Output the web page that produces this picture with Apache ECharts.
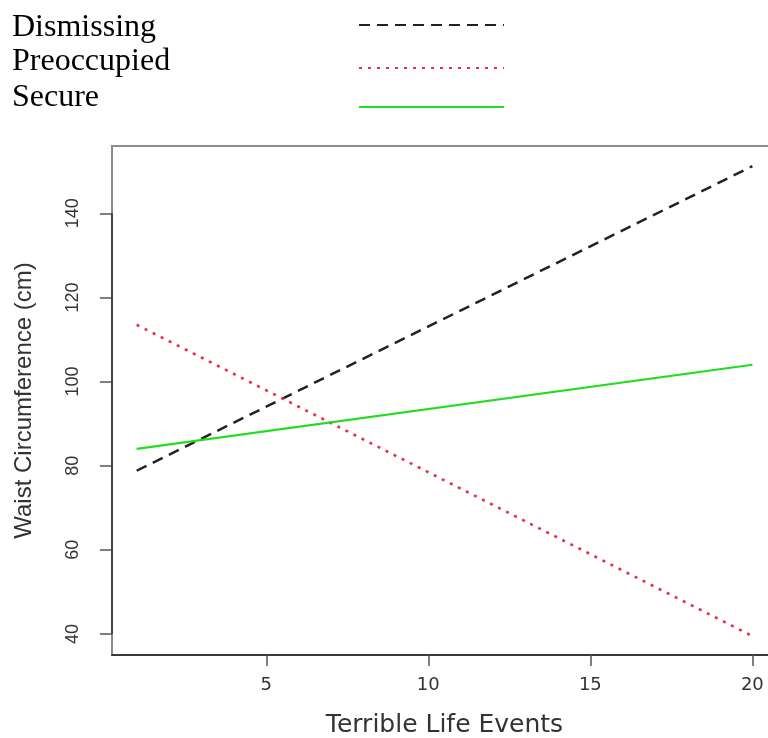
<!DOCTYPE html>
<html>
<head>
<meta charset="utf-8">
<script src="https://cdn.jsdelivr.net/npm/echarts@6/dist/echarts.min.js"></script>
<style>html,body{margin:0;padding:0;background:#fff}#c{width:768px;height:738px}</style>
</head>
<body>
<div id="c"></div>
<script>
const lifeEvents = [1, 20];
const dismissing = [78.8, 151.2];
const preoccupied = [113.5, 39.5];
const secure = [84, 104];
const xTicks = [5, 10, 15, 20];
const yTicks = [40, 60, 80, 100, 120, 140];
const seriesNames = ['Dismissing', 'Preoccupied', 'Secure'];
const xRange = [0.24, 20.76];
const yRange = [35, 156];

const toPairs = ys => lifeEvents.map((x, i) => [x, ys[i]]);

// legend layout: text rows on the left, line samples on the right
const textTops = [7, 41, 77];
const lineCenters = [25, 68, 107];

const chart = echarts.init(document.getElementById('c'));
chart.setOption({
  animation: false,
  title: seriesNames.map((n, i) => ({
    text: n, left: 7, top: textTops[i],
    textStyle: { fontFamily: 'Liberation Serif', fontSize: 32, fontWeight: 'normal', color: '#000', lineHeight: 32 }
  })),
  legend: seriesNames.map((n, i) => ({
    data: [n],
    left: 353, top: lineCenters[i] - 10,
    itemWidth: 145, itemHeight: 10,
    selectedMode: false,
    formatter: () => '',
    itemStyle: { opacity: 0 },
    textStyle: { fontSize: 1 }
  })),
  grid: {
    left: 112, top: 146, right: -9, bottom: 83,
    outerBoundsMode: 'none', containLabel: false,
    show: true, borderColor: '#8c8c8c', borderWidth: 2
  },
  xAxis: {
    type: 'value', min: xRange[0], max: xRange[1],
    name: 'Terrible Life Events', nameLocation: 'middle', nameGap: 58,
    nameTextStyle: { fontFamily: 'DejaVu Sans', fontSize: 25, color: '#333' },
    axisLine: { show: true, lineStyle: { color: '#3a3a3a', width: 2 } },
    splitLine: { show: false },
    axisTick: { show: true, length: 11, lineStyle: { color: '#555', width: 1.5 }, customValues: xTicks },
    axisLabel: { fontFamily: 'DejaVu Sans', fontSize: 18, color: '#333', margin: 21, customValues: xTicks }
  },
  yAxis: {
    type: 'value', min: yRange[0], max: yRange[1],
    name: 'Waist Circumference (cm)', nameLocation: 'middle', nameGap: 76, nameRotate: 90,
    nameTextStyle: { fontFamily: 'Liberation Sans', fontSize: 24, color: '#333' },
    axisLine: { show: false },
    splitLine: { show: false },
    axisTick: { show: true, length: 12, lineStyle: { color: '#555', width: 1.5 }, customValues: yTicks },
    axisLabel: { fontFamily: 'Liberation Sans', fontSize: 18, color: '#333', margin: 30, rotate: 90, customValues: yTicks }
  },
  series: [
    { name: seriesNames[0], type: 'line', symbol: 'none', data: toPairs(dismissing),
      lineStyle: { color: '#222', width: 2.5, type: [11, 7] }, itemStyle: { color: '#222' },
      // darker axis segment from the first to the last y tick (as drawn by R's axis())
      markLine: {
        silent: true, symbol: 'none', label: { show: false },
        lineStyle: { color: '#444', width: 2, type: 'solid' },
        data: [[{ coord: [xRange[0], yTicks[0]] }, { coord: [xRange[0], yTicks[yTicks.length - 1]] }]]
      } },
    { name: seriesNames[1], type: 'line', symbol: 'none', data: toPairs(preoccupied),
      lineStyle: { color: '#e62e4d', width: 2.6, type: [3, 6] }, itemStyle: { color: '#e62e4d' } },
    { name: seriesNames[2], type: 'line', symbol: 'none', data: toPairs(secure),
      lineStyle: { color: '#22dd22', width: 2.2 }, itemStyle: { color: '#22dd22' } }
  ]
});
</script>
</body>
</html>
